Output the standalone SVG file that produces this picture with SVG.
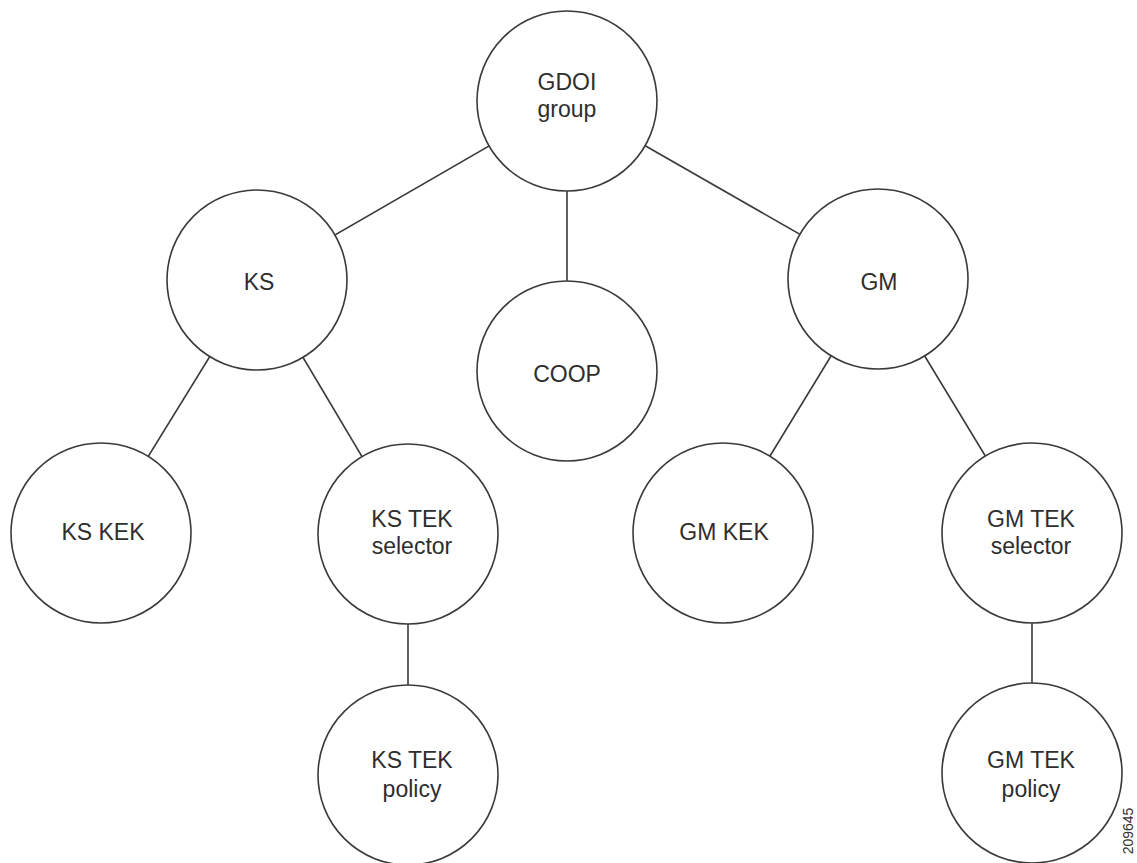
<svg xmlns="http://www.w3.org/2000/svg" width="1137" height="863" viewBox="0 0 1137 863">
<style>
.n{fill:#fff;stroke:#3a3a3a;stroke-width:1.6}
.c{stroke:#3a3a3a;stroke-width:1.6;fill:none}
.t{font-family:"Liberation Sans",Arial,sans-serif;font-size:23px;fill:#2e2e2e;text-anchor:middle}
.id{font-family:"Liberation Sans",Arial,sans-serif;font-size:14px;fill:#333}
</style>
<rect width="1137" height="863" fill="#fff"/>
<g id="connectors">
<line class="c" x1="567" y1="101" x2="257" y2="280"/>
<line class="c" x1="567" y1="101" x2="567" y2="371"/>
<line class="c" x1="567" y1="101" x2="878" y2="279"/>
<line class="c" x1="257" y1="280" x2="101" y2="533"/>
<line class="c" x1="257" y1="280" x2="408" y2="534"/>
<line class="c" x1="878" y1="279" x2="723" y2="533"/>
<line class="c" x1="878" y1="279" x2="1032" y2="533"/>
<line class="c" x1="408" y1="534" x2="408" y2="775"/>
<line class="c" x1="1032" y1="533" x2="1032" y2="773"/>
</g>
<g id="gdoi"><circle class="n" cx="567" cy="101" r="90"/><text class="t" x="567" y="90">GDOI</text><text class="t" x="567" y="117">group</text></g>
<g id="ks"><circle class="n" cx="257" cy="280" r="90"/><text class="t" x="259" y="290">KS</text></g>
<g id="coop"><circle class="n" cx="567" cy="371" r="90"/><text class="t" x="567" y="382">COOP</text></g>
<g id="gm"><circle class="n" cx="878" cy="279" r="90"/><text class="t" x="879" y="290">GM</text></g>
<g id="kskek"><circle class="n" cx="101" cy="533" r="90"/><text class="t" x="103" y="540">KS KEK</text></g>
<g id="kstekselector"><circle class="n" cx="408" cy="534" r="90"/><text class="t" x="412" y="527">KS TEK</text><text class="t" x="412" y="554">selector</text></g>
<g id="gmkek"><circle class="n" cx="723" cy="533" r="90"/><text class="t" x="724" y="540">GM KEK</text></g>
<g id="gmtekselector"><circle class="n" cx="1032" cy="533" r="90"/><text class="t" x="1031" y="527">GM TEK</text><text class="t" x="1031" y="554">selector</text></g>
<g id="kstekpolicy"><circle class="n" cx="408" cy="775" r="90"/><text class="t" x="412" y="768">KS TEK</text><text class="t" x="412" y="797">policy</text></g>
<g id="gmtekpolicy"><circle class="n" cx="1032" cy="773" r="90"/><text class="t" x="1031" y="768">GM TEK</text><text class="t" x="1031" y="797">policy</text></g>
<text class="id" transform="translate(1133,831) rotate(-90)" text-anchor="middle">209645</text>
</svg>
